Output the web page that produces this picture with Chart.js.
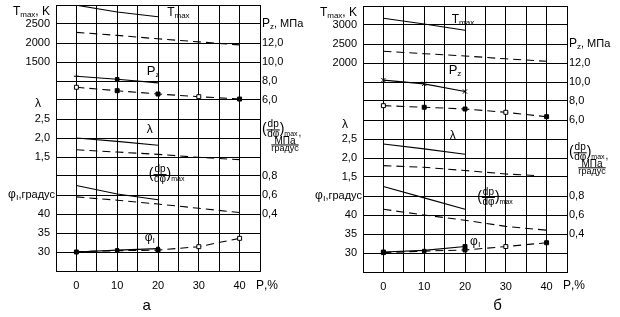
<!DOCTYPE html>
<html>
<head>
<meta charset="utf-8">
<script src="https://cdn.jsdelivr.net/npm/chart.js@4.4.0/dist/chart.umd.min.js"></script>
<style>
  body { margin: 0; background: #fff; }
  .wrap { display: flex; width: 620px; height: 317px; }
  canvas { display: block; }
</style>
</head>
<body>
<div class="wrap">
  <canvas id="chartA" width="310" height="317"></canvas>
  <canvas id="chartB" width="310" height="317"></canvas>
</div>
<script>
// ---- data ---------------------------------------------------------------
// x: share p, %   solid curves run 0..20, dashed ones 0..40
const xSolid = [0, 10, 20];
const xDash = [0, 10, 20, 30, 40];
const xLamDashB = [0, 10, 20, 30, 37];
const xTickLabels = [0, 10, 20, 30, 40];

// panel "а"
const tmaxSolidA = [2995, 2815, 2690];          // K
const tmaxDashA = [2280, 2200, 2110, 2030, 1950];
const pzSolidA = [8.5, 8.18, 7.8];              // MPa
const pzDashA = [7.34, 6.98, 6.63, 6.35, 6.1];
const lamSolidA = [2.0, 1.91, 1.81];
const lamDashA = [1.69, 1.63, 1.57, 1.49, 1.43];
const dpSolidA = [0.70, 0.61, 0.55];            // MPa/deg
const dpDashA = [0.58, 0.545, 0.505, 0.46, 0.415];
const phiSolidA = [30.0, 30.5, 30.9];           // deg
const phiDashA = [30.1, 30.35, 30.5, 31.4, 33.6];

// panel "б"
const tmaxSolidB = [3176, 3026, 2860];
const tmaxDashB = [2308, 2245, 2185, 2110, 2045];
const pzSolidB = [10.2, 9.8, 9.0];
const pzDashB = [7.51, 7.34, 7.16, 6.81, 6.35];
const lamSolidB = [2.37, 2.24, 2.1];
const lamDashB = [1.80, 1.755, 1.67, 1.58, 1.54];
const dpSolidB = [0.90, 0.78, 0.66];
const dpDashB = [0.66, 0.60, 0.545, 0.48, 0.44];
const phiSolidB = [30.26, 30.7, 31.7];
const phiDashB = [30.1, 30.5, 30.8, 31.7, 32.7];

// tick labels by grid row (0 = bottom edge, 14 = top edge)
const leftTicksA = ['', '30', '35', '40', '', '', '1,5', '2,0', '2,5', '', '', '1500', '2000', '2500', ''];
const rightTicksA = ['', '', '', '0,4', '0,6', '0,8', '', '', '', '6,0', '8,0', '10,0', '12,0', '', ''];
const leftTicksB = ['', '30', '35', '40', '', '1,5', '2,0', '2,5', '', '', '', '2000', '2500', '3000', ''];
const rightTicksB = ['', '', '0,4', '0,6', '0,8', '', '', '', '6,0', '8,0', '10,0', '12,0', '', '', ''];

// ---- helpers ---------------------------------------------------------------
const FONT = '"Liberation Sans", Arial, sans-serif';
const ROWS = 14;

// hidden axis whose grid row refRow carries value refVal, step per row
function rowAxis(refRow, refVal, step) {
    return {
        display: false,
        min: refVal - refRow * step,
        max: refVal + (ROWS - refRow) * step
    };
}

function series(xs, ys, axis, dashed, pts) {
    pts = pts || {};
    return {
        data: xs.map((x, i) => ({ x: x, y: ys[i] })),
        yAxisID: axis,
        borderColor: '#000',
        borderWidth: 1.1,
        borderDash: dashed ? [8, 5] : [],
        fill: false,
        tension: 0,
        pointStyle: pts.style || 'rect',
        pointRadius: pts.radius || 0,
        pointBackgroundColor: pts.fill || '#000',
        pointBorderColor: '#000',
        pointBorderWidth: 1
    };
}

// text with subscript runs: parts = [text, size, dy]
function runs(ctx, x, y, parts, align) {
    let w = 0;
    parts.forEach(p => { ctx.font = p[1] + 'px ' + FONT; w += ctx.measureText(p[0]).width; });
    let cx = align === 'right' ? x - w : (align === 'center' ? x - w / 2 : x);
    ctx.textAlign = 'left';
    parts.forEach(p => {
        ctx.font = p[1] + 'px ' + FONT;
        ctx.fillText(p[0], cx, y + (p[2] || 0));
        cx += ctx.measureText(p[0]).width;
    });
}

// (dp/dφ)max  [, МПа/градус]
function dpLabel(ctx, x, barY, withUnits) {
    ctx.textAlign = 'left';
    ctx.font = '14px ' + FONT;
    ctx.fillText('(', x, barY);
    const fx = x + ctx.measureText('(').width;
    ctx.font = '10px ' + FONT;
    const fw = ctx.measureText('dφ').width + 1;
    ctx.textAlign = 'center';
    ctx.fillText('dp', fx + fw / 2, barY - 5);
    ctx.fillText('dφ', fx + fw / 2, barY + 5);
    ctx.beginPath();
    ctx.moveTo(fx, barY + 0.5);
    ctx.lineTo(fx + fw, barY + 0.5);
    ctx.lineWidth = 1;
    ctx.strokeStyle = '#000';
    ctx.stroke();
    ctx.textAlign = 'left';
    ctx.font = '14px ' + FONT;
    ctx.fillText(')', fx + fw, barY);
    let mx = fx + fw + ctx.measureText(')').width;
    ctx.font = '7px ' + FONT;
    ctx.fillText('max', mx, barY + 5);
    if (withUnits) {
        mx += ctx.measureText('max').width;
        ctx.font = '10px ' + FONT;
        ctx.fillText(',', mx + 1, barY + 4);
        const ux = x + 23;
        ctx.textAlign = 'center';
        ctx.font = '10px ' + FONT;
        ctx.fillText('МПа', ux, barY + 11.5);
        ctx.font = '9px ' + FONT;
        const gw = ctx.measureText('градус').width;
        ctx.beginPath();
        ctx.moveTo(ux - gw / 2, barY + 15.5);
        ctx.lineTo(ux + gw / 2, barY + 15.5);
        ctx.stroke();
        ctx.fillText('градус', ux, barY + 19.5);
    }
}

function textPlugin(spec) {
    return {
        id: 'texts',
        afterDraw(chart) {
            const ctx = chart.ctx;
            const X = v => chart.scales.x.getPixelForValue(v);
            const Y = r => chart.scales.y.getPixelForValue(r);
            const left = chart.chartArea.left;
            const right = chart.chartArea.right;
            ctx.save();
            ctx.fillStyle = '#000';
            ctx.textBaseline = 'middle';

            // left axis titles
            runs(ctx, left - 6, Y(13.65), [['T', 12], ['max', 8, 3], [', K', 12]], 'right');
            runs(ctx, left - 18, Y(spec.lamRow), [['λ', 12]], 'center');
            runs(ctx, left - 1, Y(4), [['φ', 12], ['ı', 9, 3], [',градус', 11]], 'right');

            // right axis titles
            runs(ctx, right + 2, Y(spec.pzRow), [['P', 12], ['z', 8, 3], [', МПа', 11]], 'left');
            dpLabel(ctx, right + 2, Y(spec.dpRow), true);

            // curve labels inside the plot
            runs(ctx, X(spec.tIn[0]), Y(spec.tIn[1]), [['T', 12], ['max', 8, 3]], 'left');
            runs(ctx, X(spec.pIn[0]), Y(spec.pIn[1]), [['P', 13], ['z', 8, 3]], 'left');
            runs(ctx, X(spec.lIn[0]), Y(spec.lIn[1]), [['λ', 12]], 'left');
            dpLabel(ctx, X(spec.dIn[0]), Y(spec.dIn[1]), false);
            runs(ctx, X(spec.fIn[0]), Y(spec.fIn[1]), [['φ', 12], ['ı', 9, 3]], 'left');

            // x axis title and panel letter
            runs(ctx, X(45) - 4, 286, [['P', 12], [',', 12], ['%', 12]], 'left');
            runs(ctx, X(spec.letterX), 306, [[spec.letter, 15]], 'center');
            ctx.restore();
        }
    };
}

function makeChart(id, p) {
    const tick = { family: FONT, size: 11 };
    const fixBox = (w, h) => scale => {
        if (w !== null) scale.width = w;
        if (h !== null) scale.height = h;
        scale.paddingTop = 0; scale.paddingBottom = 0;
        scale.paddingLeft = 0; scale.paddingRight = 0;
    };
    const scales = {
        x: {
            type: 'linear', min: -5, max: 45,
            ticks: {
                stepSize: 5, autoSkip: false, maxRotation: 0, color: '#000', font: tick, padding: 8,
                callback: v => xTickLabels.includes(v) ? String(v) : ''
            },
            grid: { color: '#000', lineWidth: 1, drawTicks: false },
            border: { color: '#000', width: 1 },
            afterFit: fixBox(null, 317 - p.bottom)
        },
        y: {
            position: 'left', min: 0, max: ROWS,
            ticks: {
                stepSize: 1, autoSkip: false, color: '#000', font: tick, padding: 6,
                callback: v => p.leftTicks[v] || ''
            },
            grid: { color: '#000', lineWidth: 1, drawTicks: false },
            border: { color: '#000', width: 1 },
            afterFit: fixBox(p.left, null)
        },
        yR: {
            position: 'right', min: 0, max: ROWS,
            ticks: {
                stepSize: 1, autoSkip: false, color: '#000', font: tick, padding: 2,
                callback: v => p.rightTicks[v] || ''
            },
            grid: { display: false, drawTicks: false },
            border: { color: '#000', width: 1 },
            afterFit: fixBox(310 - p.right, null)
        },
        T: rowAxis(13, p.tRef, 500),
        P: rowAxis(9, p.pRef, 2),
        L: rowAxis(6, p.lRef, 0.5),
        D: rowAxis(3, p.dRef, 0.2),
        F: rowAxis(1, 30, 5)
    };
    return new Chart(document.getElementById(id), {
        type: 'line',
        data: { datasets: p.datasets },
        options: {
            responsive: false,
            animation: false,
            devicePixelRatio: 1,
            layout: { padding: { top: p.top, left: 0, right: 0, bottom: 0 } },
            plugins: { legend: { display: false }, tooltip: { enabled: false } },
            scales: scales
        },
        plugins: [textPlugin(p.text)]
    });
}

const W = '#fff', B = '#000';

makeChart('chartA', {
    top: 5, bottom: 271, left: 56, right: 260,
    leftTicks: leftTicksA, rightTicks: rightTicksA,
    tRef: 2500, pRef: 6, lRef: 1.5, dRef: 0.4,
    datasets: [
        series(xSolid, tmaxSolidA, 'T', false),
        series(xDash, tmaxDashA, 'T', true),
        series(xSolid, pzSolidA, 'P', false, { style: ['cross', 'rect', 'rect'], radius: [2.5, 2.5, 0] }),
        series(xDash, pzDashA, 'P', true, { radius: 2.8, fill: [W, B, B, W, B] }),
        series(xSolid, lamSolidA, 'L', false),
        series(xDash, lamDashA, 'L', true),
        series(xSolid, dpSolidA, 'D', false),
        series(xDash, dpDashA, 'D', true),
        series(xSolid, phiSolidA, 'F', false, { radius: [2.8, 2, 2] }),
        series(xDash, phiDashA, 'F', true, { radius: [0, 2.5, 2.8, 2.8, 2.8], fill: [B, B, B, W, W] })
    ],
    text: {
        lamRow: 8.8, pzRow: 13, dpRow: 7.45,
        tIn: [22.25, 13.6], pIn: [17.25, 10.5], lIn: [17.25, 7.45],
        dIn: [17.75, 5.1], fIn: [16.75, 1.75],
        letter: 'а', letterX: 17.25
    }
});

makeChart('chartB', {
    top: 6, bottom: 272, left: 53, right: 257,
    leftTicks: leftTicksB, rightTicks: rightTicksB,
    tRef: 3000, pRef: 8, lRef: 2.0, dRef: 0.6,
    datasets: [
        series(xSolid, tmaxSolidB, 'T', false),
        series(xDash, tmaxDashB, 'T', true),
        series(xSolid, pzSolidB, 'P', false, { style: 'crossRot', radius: 3 }),
        series(xDash, pzDashB, 'P', true, { radius: 2.8, fill: [W, B, B, W, B] }),
        series(xSolid, lamSolidB, 'L', false),
        series(xLamDashB, lamDashB, 'L', true),
        series(xSolid, dpSolidB, 'D', false),
        series(xDash, dpDashB, 'D', true),
        series(xSolid, phiSolidB, 'F', false, { radius: [2.8, 0, 2.8] }),
        series(xDash, phiDashB, 'F', true, { radius: [2.8, 2.5, 2.8, 2.8, 2.8], fill: [B, B, B, W, B] })
    ],
    text: {
        lamRow: 7.75, pzRow: 12, dpRow: 6.3,
        tIn: [16.75, 13.3], pIn: [16, 10.6], lIn: [16.25, 7.15],
        dIn: [23, 3.95], fIn: [21.25, 1.6],
        letter: 'б', letterX: 28
    }
});
</script>
</body>
</html>
